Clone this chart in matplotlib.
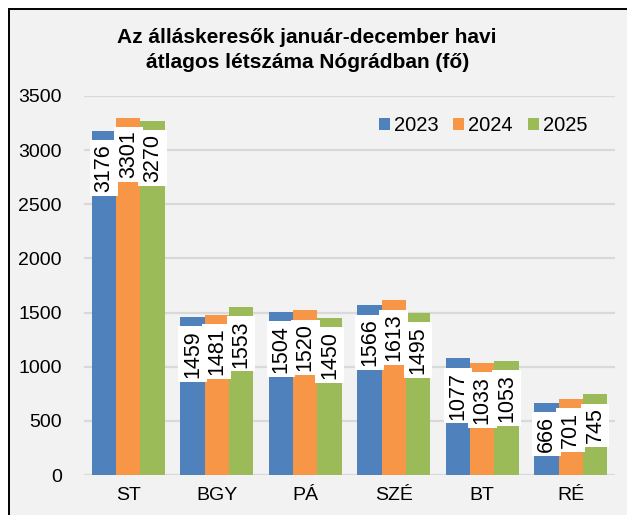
import numpy as np
import matplotlib.pyplot as plt
from matplotlib.patches import Rectangle

plt.rcParams['font.family'] = ['Liberation Sans', 'DejaVu Sans']

categories = ['ST', 'BGY', 'PÁ', 'SZÉ', 'BT', 'RÉ']
years = ['2023', '2024', '2025']
v2023 = [3176, 1459, 1504, 1566, 1077, 666]
v2024 = [3301, 1481, 1520, 1613, 1033, 701]
v2025 = [3270, 1553, 1450, 1495, 1053, 745]
colors = ['#4F81BD', '#F79646', '#9BBB59']

W, H = 627, 515
fig = plt.figure(figsize=(W / 100, H / 100), dpi=100)
fig.patch.set_facecolor('white')

# grey chart area with black frame (only left/top edges visible)
fig.patches.append(Rectangle((9 / W, -0.05), 1.1, (H - 9) / H + 0.05,
                             transform=fig.transFigure, facecolor='#F2F2F2',
                             edgecolor='black', linewidth=1.4, zorder=-5))

ax = fig.add_axes([84 / W, 40 / H, 531 / W, 379 / H])
ax.set_facecolor('none')

x = np.arange(len(categories))
bw = 0.275
series = [v2023, v2024, v2025]
for k, (vals, col, yr) in enumerate(zip(series, colors, years)):
    ax.bar(x + (k - 1) * bw, vals, bw, color=col, label=yr, zorder=2)

# value labels: rotated, white box, just under the bar top
for k, vals in enumerate(series):
    for xi, v in zip(x, vals):
        ax.annotate(str(v), (xi + (k - 1) * bw, v), xytext=(0, -9.5),
                    textcoords='offset points', rotation=90, ha='center',
                    va='top', fontsize=15.5, color='black', zorder=3,
                    bbox=dict(boxstyle='square,pad=0.18', facecolor='white',
                              edgecolor='none'))

ax.set_xlim(-0.5, 5.5)
ax.set_ylim(0, 3500)
ax.set_yticks(np.arange(0, 3501, 500))
ax.set_xticks(x)
ax.set_xticklabels(categories)
ax.tick_params(axis='both', length=0, labelsize=14, colors='black')
ax.tick_params(axis='y', pad=16)
ax.tick_params(axis='x', pad=9)
ax.grid(axis='y', color='#D9D9D9', linewidth=1.6, zorder=0)
ax.set_axisbelow(True)
for s in ax.spines.values():
    s.set_visible(False)

ax.legend(loc='upper right', bbox_to_anchor=(0.964, 0.968), ncol=3, frameon=False,
          fontsize=14.5, handlelength=0.55, handleheight=0.55,
          handletextpad=0.2, columnspacing=0.75, borderaxespad=0)

fig.text(0.49, 1 - 50 / H, 'Az álláskeresők január-december havi\nátlagos létszáma Nógrádban (fő)',
         ha='center', va='center', fontsize=15, fontweight='bold',
         linespacing=1.35)

fig.savefig('out.png', dpi=100)
